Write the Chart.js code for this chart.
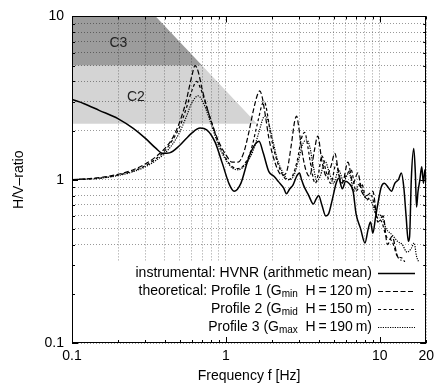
<!DOCTYPE html>
<html>
<head>
<meta charset="utf-8">
<script src="https://cdn.jsdelivr.net/npm/chart.js@4.4.1/dist/chart.umd.min.js"></script>
<style>
  html, body { margin: 0; padding: 0; background: #fff; }
  canvas { display: block; }
</style>
</head>
<body>
<canvas id="hvChart" width="439" height="387"></canvas>
<script>
// instrumental HVNR (arithmetic mean)
const instFreq = [0.1,0.12,0.15,0.2,0.25,0.3,0.35,0.39,0.43,0.5,0.6,0.68,0.75,0.85,0.95,1.05,1.13,1.25,1.4,1.55,1.64,1.75,1.9,2.05,2.2,2.37,2.47,2.6,2.73,2.88,3.0,3.1,3.2,3.45,3.7,3.85,4.0,4.2,4.45,4.65,4.9,5.2,5.4,5.7,6.0,6.3,6.7,7.0,7.5,8.0,8.4,8.7,9.0,9.4,9.8,10.2,10.7,11.3,11.9,12.5,13.2,13.8,14.3,14.8,15.3,15.6,16.0,16.6,17.0,17.3,17.7,18.2,18.7,19.2,19.6,20];
const instHV = [3.1,2.92,2.66,2.36,2.06,1.79,1.56,1.45,1.46,1.62,1.93,2.07,2.02,1.7,1.25,0.94,0.85,0.95,1.35,1.65,1.72,1.45,1.12,1.05,0.97,0.89,0.82,0.88,0.93,1.05,1.1,1.0,0.92,0.8,0.71,0.76,0.8,0.7,0.6,0.62,0.75,0.95,1.02,0.88,0.98,0.95,0.85,0.62,0.5,0.41,0.5,0.55,0.47,0.6,0.75,0.9,0.95,0.9,0.85,0.95,1.0,1.1,0.9,0.6,0.42,0.45,1.0,1.55,1.1,0.68,0.85,1.0,1.2,0.95,1.15,1.0];

// theoretical profiles
const p1Freq = [0.1,0.15,0.2,0.25,0.3,0.35,0.4,0.45,0.5,0.55,0.6,0.63,0.66,0.7,0.75,0.8,0.9,1.0,1.1,1.2,1.3,1.4,1.5,1.6,1.66,1.72,1.8,1.9,2.0,2.2,2.35,2.5,2.65,2.8,2.88,2.95,3.1,3.3,3.5,3.75,3.95,4.2,4.5,4.8,5.1,5.4,5.7,6.2,6.7,7.2,7.6,8.2,9.0,9.7,10.5,11.2,12.0,13.0,13.8];
const p1HV = [1.0,1.03,1.08,1.15,1.25,1.38,1.55,1.8,2.25,3.0,4.3,5.0,4.6,3.6,2.8,2.3,1.7,1.42,1.28,1.28,1.45,1.9,2.6,3.3,3.5,3.2,2.5,1.8,1.45,1.12,1.06,1.15,1.6,2.3,2.45,2.2,1.55,1.15,1.05,1.5,1.85,1.3,1.05,1.2,1.45,1.1,0.95,1.28,0.95,1.1,0.85,0.8,0.85,0.55,0.6,0.4,0.45,0.34,0.32];

const p2Freq = [0.1,0.15,0.2,0.25,0.3,0.35,0.4,0.45,0.5,0.55,0.6,0.645,0.69,0.74,0.8,0.9,1.0,1.1,1.2,1.3,1.45,1.6,1.72,1.78,1.85,1.95,2.1,2.3,2.5,2.7,2.9,3.1,3.25,3.4,3.6,3.8,4.0,4.2,4.5,4.8,5.2,5.6,6.0,6.5,7.0,7.6,8.2,8.8,9.5,10.3,11.0,12.0,13.0,14.0,14.8];
const p2HV = [1.0,1.02,1.07,1.13,1.22,1.34,1.5,1.75,2.1,2.7,3.5,4.0,3.55,2.9,2.3,1.65,1.35,1.2,1.17,1.22,1.5,2.2,2.9,3.0,2.6,1.9,1.4,1.1,1.0,1.05,1.3,1.8,1.95,1.6,1.15,0.95,1.1,1.4,1.1,0.95,1.25,0.95,1.05,1.15,0.85,0.95,0.75,0.8,0.6,0.55,0.45,0.42,0.34,0.33,0.3];

const p3Freq = [0.1,0.15,0.2,0.25,0.3,0.35,0.4,0.45,0.5,0.55,0.6,0.66,0.72,0.8,0.9,1.0,1.1,1.2,1.35,1.5,1.65,1.75,1.82,1.9,2.0,2.15,2.35,2.55,2.75,2.95,3.15,3.35,3.5,3.7,3.9,4.1,4.4,4.7,5.0,5.4,5.8,6.3,6.8,7.4,8.0,8.7,9.4,10.2,11.0,12.0,13.0,14.0,15.0,16.0,16.7,17.3,18.0];
const p3HV = [1.0,1.02,1.06,1.12,1.2,1.31,1.45,1.65,1.95,2.4,2.95,3.26,2.9,2.2,1.6,1.32,1.18,1.15,1.25,1.5,2.0,2.4,2.45,2.2,1.8,1.35,1.1,1.0,1.05,1.3,1.65,1.75,1.6,1.2,0.98,1.05,1.3,1.1,0.95,1.15,0.98,1.1,0.85,0.95,0.78,0.75,0.62,0.6,0.5,0.46,0.42,0.4,0.36,0.38,0.41,0.34,0.31];

// shaded classes C3 / C2
const c3Freq = [0.1, 0.35, 0.7];
const c3HV = [10, 10, 5];
const c3Base = 5;
const c2Freq = [0.1, 0.7, 1.59];
const c2HV = [5, 5, 2.2];
const c2Base = 2.2;

// axes
const xTicks = [0.1,0.2,0.3,0.4,0.5,0.6,0.7,0.8,0.9,1,2,3,4,5,6,7,8,9,10,20];
const xLabels = [0.1, 1, 10, 20];
const yTicks = [0.1,0.2,0.3,0.4,0.5,0.6,0.7,0.8,0.9,1,2,3,4,5,6,7,8,9,10];
const yLabels = [0.1, 1, 10];
const majorVals = [0.1, 1, 10];

const legendRows = [
  [["instrumental: HVNR (arithmetic mean)", false]],
  [["theoretical: Profile 1 (G", false], ["min", true], ["  H\u2009=\u2009120\u2009m)", false]],
  [["Profile 2 (G", false], ["mid", true], ["  H\u2009=\u2009150\u2009m)", false]],
  [["Profile 3 (G", false], ["max", true], ["  H\u2009=\u2009190\u2009m)", false]]
];

const FONT = "'Liberation Sans', Arial, Helvetica, sans-serif";
Chart.defaults.font.family = FONT;
Chart.defaults.font.size = 14;
Chart.defaults.color = "#000";

function pairs(xs, ys) {
  return xs.map((x, i) => ({ x: x, y: ys[i] }));
}

const curveStyles = [
  { dash: [], width: 1.5 },
  { dash: [5, 2.5], width: 1.2 },
  { dash: [3, 2.5], width: 1.2 },
  { dash: [1.2, 1.2], width: 1.2 }
];

const overlayPlugin = {
  id: "overlay",
  afterDraw(chart) {
    const ctx = chart.ctx;
    const area = chart.chartArea;
    const xs = chart.scales.x;
    const ys = chart.scales.y;
    ctx.save();

    // opaque legend box
    ctx.fillStyle = "#fff";
    ctx.fillRect(area.left + 1, 262, area.right - area.left - 2, area.bottom - 262);

    // legend entries
    ctx.fillStyle = "#000";
    ctx.textBaseline = "middle";
    ctx.textAlign = "left";
    const mainFont = "14px " + FONT;
    const subFont = "10px " + FONT;
    legendRows.forEach((parts, r) => {
      const y = 273 + r * 18;
      const widths = parts.map(([t, sub]) => {
        ctx.font = sub ? subFont : mainFont;
        return ctx.measureText(t).width;
      });
      let x = 372 - widths.reduce((a, b) => a + b, 0);
      parts.forEach(([t, sub], i) => {
        ctx.font = sub ? subFont : mainFont;
        ctx.fillText(t, x, sub ? y + 3 : y);
        x += widths[i];
      });
      const st = curveStyles[r];
      ctx.beginPath();
      ctx.setLineDash(st.dash);
      ctx.lineWidth = st.width;
      ctx.strokeStyle = "#000";
      ctx.moveTo(378, y + 0.5);
      ctx.lineTo(415, y + 0.5);
      ctx.stroke();
    });
    ctx.setLineDash([]);

    // class labels
    ctx.font = "14px " + FONT;
    ctx.textAlign = "center";
    ctx.fillStyle = "#222";
    ctx.fillText("C3", xs.getPixelForValue(0.2), ys.getPixelForValue(6.9));
    ctx.fillText("C2", xs.getPixelForValue(0.26), ys.getPixelForValue(3.2));

    // frame
    ctx.strokeStyle = "#000";
    ctx.lineWidth = 1;
    ctx.strokeRect(Math.round(area.left) + 0.5, Math.round(area.top) + 0.5,
      Math.round(area.right - area.left) - 1, Math.round(area.bottom - area.top) - 1);

    // inward ticks on all sides
    ctx.beginPath();
    xTicks.forEach(v => {
      const px = Math.round(xs.getPixelForValue(v)) + 0.5;
      const len = majorVals.includes(v) ? 6 : 3;
      ctx.moveTo(px, area.bottom);
      ctx.lineTo(px, area.bottom - len);
      ctx.moveTo(px, area.top);
      ctx.lineTo(px, area.top + len);
    });
    yTicks.forEach(v => {
      const py = Math.round(ys.getPixelForValue(v)) + 0.5;
      const len = majorVals.includes(v) ? 6 : 3;
      ctx.moveTo(area.left, py);
      ctx.lineTo(area.left + len, py);
      ctx.moveTo(area.right, py);
      ctx.lineTo(area.right - len, py);
    });
    ctx.stroke();
    ctx.restore();
  }
};

const curveDatasets = [
  pairs(instFreq, instHV),
  pairs(p1Freq, p1HV),
  pairs(p2Freq, p2HV),
  pairs(p3Freq, p3HV)
].map((d, i) => ({
  data: d,
  borderColor: "#000",
  borderWidth: curveStyles[i].width,
  borderDash: curveStyles[i].dash,
  pointRadius: 0,
  fill: false,
  cubicInterpolationMode: "monotone"
}));

new Chart(document.getElementById("hvChart"), {
  type: "line",
  data: {
    datasets: curveDatasets.concat([
      {
        data: pairs(c3Freq, c3HV),
        borderWidth: 0,
        borderColor: "rgba(0,0,0,0)",
        backgroundColor: "#9c9c9c",
        pointRadius: 0,
        tension: 0,
        fill: { value: c3Base }
      },
      {
        data: pairs(c2Freq, c2HV),
        borderWidth: 0,
        borderColor: "rgba(0,0,0,0)",
        backgroundColor: "#d4d4d4",
        pointRadius: 0,
        tension: 0,
        fill: { value: c2Base }
      }
    ])
  },
  options: {
    responsive: false,
    animation: false,
    layout: { padding: { top: 16, right: 7, left: 0, bottom: 0 } },
    plugins: { legend: { display: false }, tooltip: { enabled: false } },
    scales: {
      x: {
        type: "logarithmic",
        min: 0.1,
        max: 20,
        afterBuildTicks: s => { s.ticks = xTicks.map(v => ({ value: v })); },
        afterFit: s => { s.height = 44; },
        ticks: {
          autoSkip: false,
          maxRotation: 0,
          padding: 5,
          callback: v => (xLabels.includes(v) ? String(v) : "")
        },
        grid: { z: 1, color: "rgba(0,0,0,0.4)", lineWidth: 1, drawTicks: false },
        border: { display: false, dash: [1, 2] },
        title: { display: true, text: "Frequency f [Hz]", padding: { top: 0, bottom: 2 } }
      },
      y: {
        type: "logarithmic",
        min: 0.1,
        max: 10,
        afterBuildTicks: s => { s.ticks = yTicks.map(v => ({ value: v })); },
        afterFit: s => { s.width = 72; },
        ticks: {
          autoSkip: false,
          padding: 8,
          callback: v => (yLabels.includes(v) ? String(v) : "")
        },
        grid: { z: 1, color: "rgba(0,0,0,0.4)", lineWidth: 1, drawTicks: false },
        border: { display: false, dash: [1, 2] },
        title: { display: true, text: "H/V\u2013ratio", padding: { top: 11, bottom: 0 } }
      }
    }
  },
  plugins: [overlayPlugin]
});
</script>
</body>
</html>
